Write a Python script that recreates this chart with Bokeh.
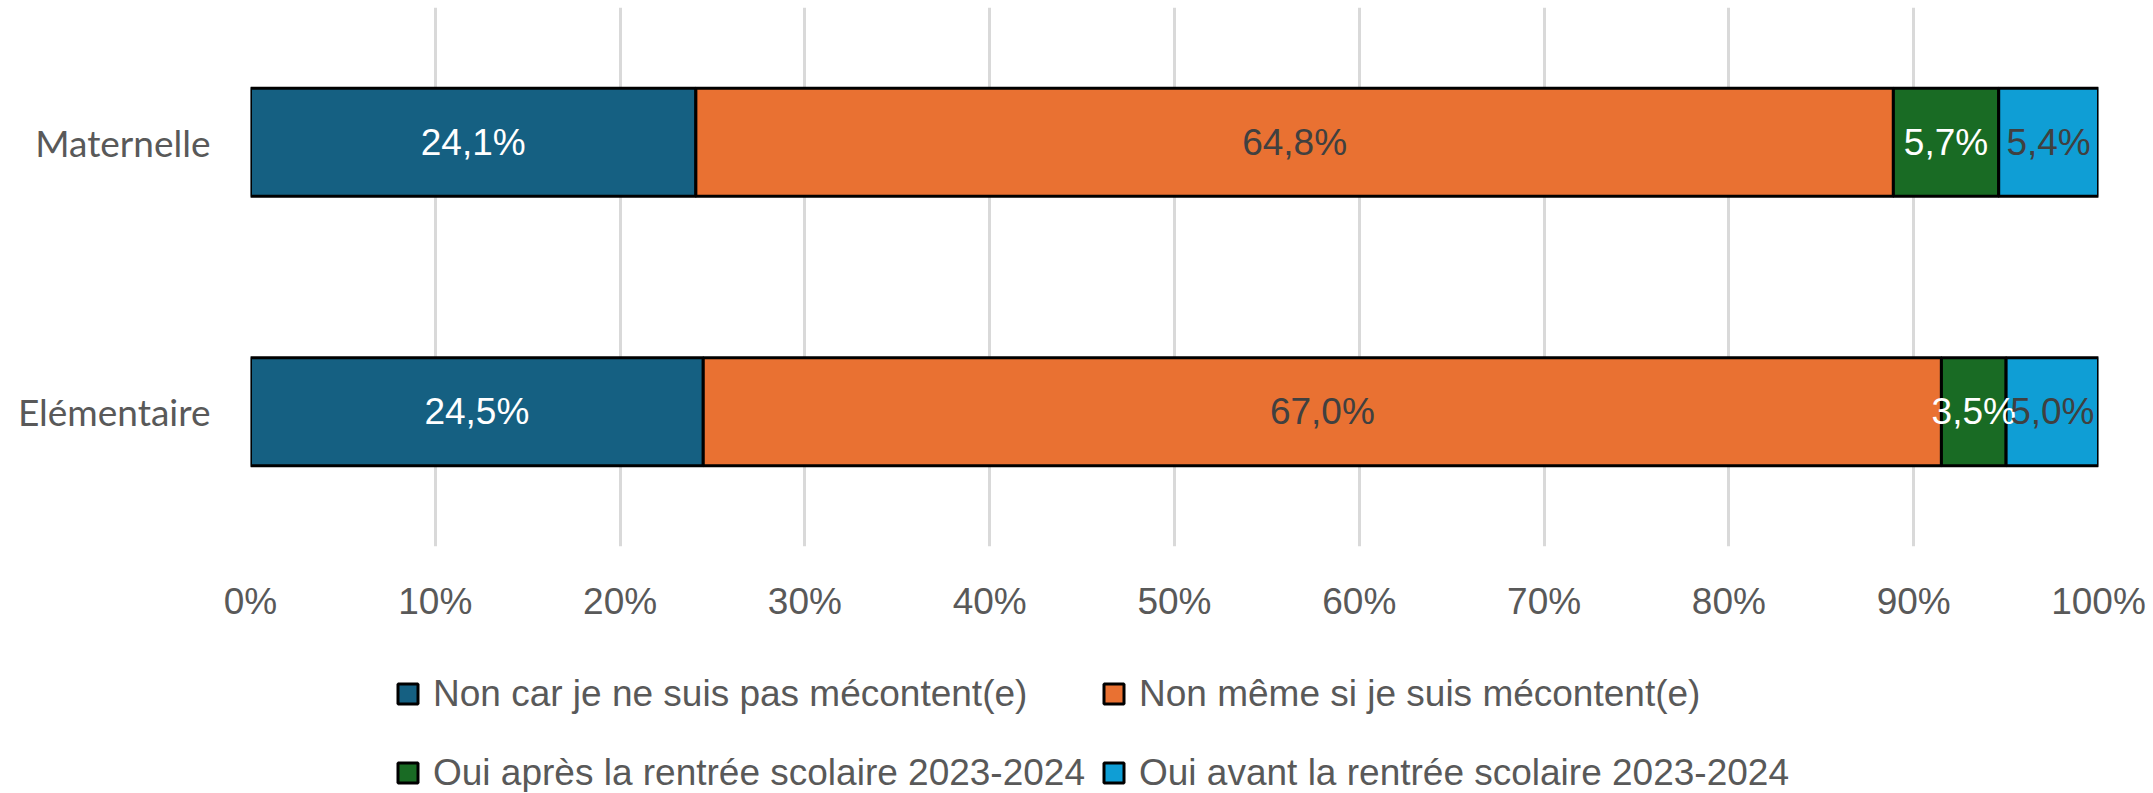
from bokeh.plotting import figure
from bokeh.layouts import column
from bokeh.models import (ColumnDataSource, FactorRange, Range1d, FixedTicker,
                          PrintfTickFormatter, Legend, LegendItem)
from bokeh.core.properties import value
from bokeh.embed import file_html
from bokeh.resources import INLINE

# ---- data ----
categories = ["Maternelle", "Elémentaire"]
series_names = [
    "Non car je ne suis pas mécontent(e)",
    "Non même si je suis mécontent(e)",
    "Oui après la rentrée scolaire 2023-2024",
    "Oui avant la rentrée scolaire 2023-2024",
]
non_pas_mecontent = [24.1, 24.5]
non_meme_mecontent = [64.8, 67.0]
oui_apres = [5.7, 3.5]
oui_avant = [5.4, 5.0]
tick_values = [0, 10, 20, 30, 40, 50, 60, 70, 80, 90, 100]

# ---- styles ----
colors = ["#156082", "#E97132", "#196B24", "#0F9ED5"]
label_colors = ["#FFFFFF", "#404040", "#FFFFFF", "#404040"]

series = [non_pas_mecontent, non_meme_mecontent, oui_apres, oui_avant]
keys = ["s0", "s1", "s2", "s3"]

data = {"cat": categories}
for k, s in zip(keys, series):
    data[k] = s
src = ColumnDataSource(data)

W = 2150
H1 = 640
frame_left, frame_right = 250, 2098
frame_top, frame_bottom = 7, 546

p = figure(width=W, height=H1, output_backend="svg", toolbar_location=None,
           y_range=FactorRange(factors=list(reversed(categories))),
           x_range=Range1d(0, 100),
           min_border_left=frame_left, min_border_right=W - frame_right,
           min_border_top=frame_top, min_border_bottom=H1 - frame_bottom)

renderers = p.hbar_stack(keys, y="cat", height=0.4, fill_color=colors,
                         line_color="black", line_width=3, source=src)

# data labels (centres computed from the data)
lx, ly, lt, lc = [], [], [], []
for j, cat in enumerate(categories):
    left = 0.0
    for i, s in enumerate(series):
        v = s[j]
        lx.append(left + v / 2)
        ly.append(cat)
        lt.append(f"{v:.1f}".replace(".", ",") + "%")
        lc.append(label_colors[i])
        left += v
lsrc = ColumnDataSource(dict(x=lx, y=ly, t=lt, c=lc))
p.text(x="x", y="y", text="t", source=lsrc, text_color="c",
       text_align="center", text_baseline="middle",
       text_font=value("Liberation Sans"), text_font_size="37px")

# axes
p.xaxis.ticker = FixedTicker(ticks=tick_values)
p.xaxis.formatter = PrintfTickFormatter(format="%d%%")
for ax in (p.xaxis, p.yaxis):
    ax.axis_line_color = None
    ax.major_tick_line_color = None
    ax.minor_tick_line_color = None
    ax.major_tick_out = 0
    ax.major_tick_in = 0
    ax.major_label_text_color = "#595959"
p.xaxis.major_label_text_font = "Liberation Sans"
p.xaxis.major_label_text_font_size = "37px"
p.xaxis.major_label_standoff = 34
p.yaxis.major_label_text_font = "Lato"
p.yaxis.major_label_text_font_size = "37px"
p.yaxis.major_label_standoff = 40

p.xgrid.grid_line_color = "#D9D9D9"
p.xgrid.grid_line_width = 3
p.ygrid.grid_line_color = None
p.outline_line_color = None

# ---- legend in its own strip (frame aligned with the main plot) ----
H2 = 152
pl = figure(width=W, height=H2, output_backend="svg", toolbar_location=None,
            x_range=Range1d(0, 1), y_range=Range1d(0, 1),
            x_axis_location=None, y_axis_location=None,
            min_border_left=frame_left, min_border_right=W - frame_right,
            min_border_top=0, min_border_bottom=0)
pl.grid.grid_line_color = None
pl.outline_line_color = None
dummy = []
for c in colors:
    # legend-only renderers (tiny swatch, masked below)
    dummy.append(pl.hbar(y=[0.5], left=[0.92], right=[0.93], height=0.05, fill_color=c,
                         line_color="black", line_width=3))
# white mask hiding the legend-only swatches
pl.quad(left=[0.88], right=[1.0], bottom=[0.0], top=[1.0],
        fill_color="white", line_color=None)

common = dict(
    orientation="vertical",
    label_text_font="Liberation Sans", label_text_font_size="37px",
    label_text_color="#595959", glyph_width=25, glyph_height=25,
    label_standoff=13, spacing=37, padding=0, margin=0,
    border_line_color=None, background_fill_alpha=0,
)
legend_a = Legend(items=[LegendItem(label=series_names[0], renderers=[dummy[0]]),
                         LegendItem(label=series_names[2], renderers=[dummy[2]])],
                  location=(145, -1.5), **common)
legend_b = Legend(items=[LegendItem(label=series_names[1], renderers=[dummy[1]]),
                         LegendItem(label=series_names[3], renderers=[dummy[3]])],
                  location=(851, -1.5), **common)
pl.add_layout(legend_a, "center")
pl.add_layout(legend_b, "center")

layout = column(p, pl, spacing=0)
open("out.html", "w").write(file_html(layout, INLINE))
